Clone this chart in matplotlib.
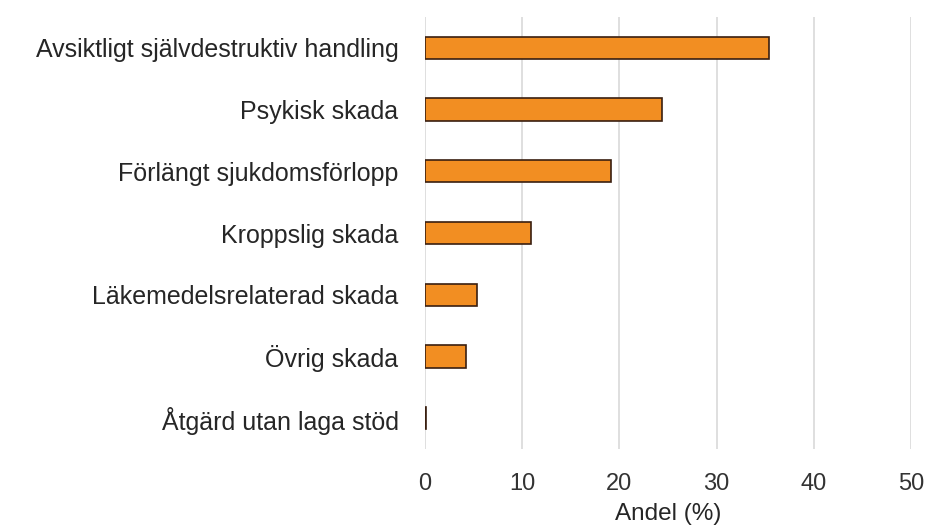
import matplotlib.pyplot as plt

categories = ['Avsiktligt självdestruktiv handling', 'Psykisk skada',
              'Förlängt sjukdomsförlopp', 'Kroppslig skada',
              'Läkemedelsrelaterad skada', 'Övrig skada',
              'Åtgärd utan laga stöd']
values = [35.4, 24.4, 19.1, 10.9, 5.3, 4.2, 0.15]
xticks = [0, 10, 20, 30, 40, 50]

plt.rcParams['font.family'] = ['Liberation Sans', 'DejaVu Sans']

fig = plt.figure(figsize=(9.28, 5.28), dpi=100)
ax = fig.add_axes([425 / 928, 1 - 449 / 528, 486 / 928, 432 / 528])

y = list(range(len(categories)))
ax.barh(y, values, height=0.36, color='#F28E22', edgecolor='#3a1f10', linewidth=1.2, zorder=3)

ax.set_ylim(len(categories) - 0.5, -0.5)
ax.set_xlim(0, 50)
ax.set_xticks(xticks)
ax.set_yticks(y)
ax.set_yticklabels(categories)
ax.tick_params(axis='y', length=0, pad=19, labelsize=18, labelcolor='#262626')
ax.tick_params(axis='x', length=0, pad=17, labelsize=17, labelcolor='#333333')
ax.grid(axis='x', color='#d9d9d9', linewidth=1.2, zorder=0)
for s in ax.spines.values():
    s.set_visible(False)
ax.set_xlabel('Andel (%)', fontsize=17.5, color='#262626', labelpad=6)

fig.savefig('out.png', dpi=100)
